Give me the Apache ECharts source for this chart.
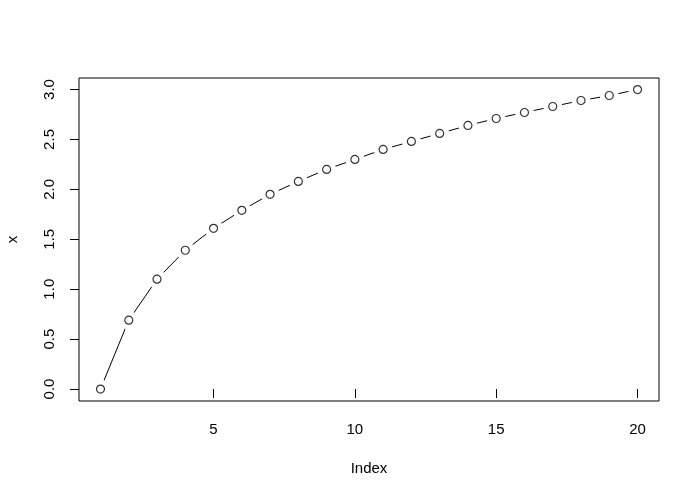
<!DOCTYPE html>
<html>
<head>
<meta charset="utf-8">
<script src="https://cdn.jsdelivr.net/npm/echarts@6/dist/echarts.min.js"></script>
<style>html,body{margin:0;padding:0;background:#fff}#c{width:700px;height:500px}</style>
</head>
<body>
<div id="c"></div>
<script>
var indexValues = [1,2,3,4,5,6,7,8,9,10,11,12,13,14,15,16,17,18,19,20];
var xValues = [0.00,0.69,1.10,1.39,1.61,1.79,1.95,2.08,2.20,2.30,2.40,2.48,2.56,2.64,2.71,2.77,2.83,2.89,2.94,3.00];
var xTicks = [5,10,15,20];
var yTicks = [0,0.5,1,1.5,2,2.5,3];

var pts = indexValues.map(function(v,i){return [v, xValues[i]];});
var font = 'Liberation Sans, Arial, Helvetica, sans-serif';
var chart = echarts.init(document.getElementById('c'), null, {renderer:'canvas'});
chart.setOption({
  animation:false,
  backgroundColor:'#fff',
  grid:{left:79,right:41,top:78,bottom:99,show:true,borderColor:'#000',borderWidth:1,backgroundColor:'transparent',
    containLabel:false,outerBoundsMode:'none'},
  xAxis:{type:'value',min:0.24,max:20.76,
    name:'Index',nameLocation:'middle',nameGap:60,
    nameTextStyle:{color:'#000',fontSize:15,fontFamily:font,verticalAlign:'top'},
    axisLine:{show:false},splitLine:{show:false},
    axisTick:{show:true,length:9,customValues:xTicks,lineStyle:{color:'#000'}},
    axisLabel:{show:true,customValues:xTicks,margin:21,color:'#000',fontSize:15,fontFamily:font,verticalAlign:'top'}
  },
  yAxis:{type:'value',min:-0.1198,max:3.1155,
    name:'x',nameLocation:'middle',nameGap:59,nameRotate:90,
    nameTextStyle:{color:'#000',fontSize:15,fontFamily:font},
    axisLine:{show:false},splitLine:{show:false},
    axisTick:{show:true,length:9,customValues:yTicks,lineStyle:{color:'#000'}},
    axisLabel:{show:true,customValues:yTicks,rotate:90,margin:22,color:'#000',fontSize:15,fontFamily:font,
      formatter:function(v){return v.toFixed(1);}}
  },
  series:[
    {type:'line',data:pts,symbol:'circle',symbolSize:19,
      itemStyle:{color:'#fff',borderWidth:0},lineStyle:{color:'#000',width:1},z:2},
    {type:'scatter',data:pts,symbol:'circle',symbolSize:8,
      itemStyle:{color:'#fff',borderColor:'#000',borderWidth:1.2},z:3}
  ]
});
</script>
</body>
</html>
